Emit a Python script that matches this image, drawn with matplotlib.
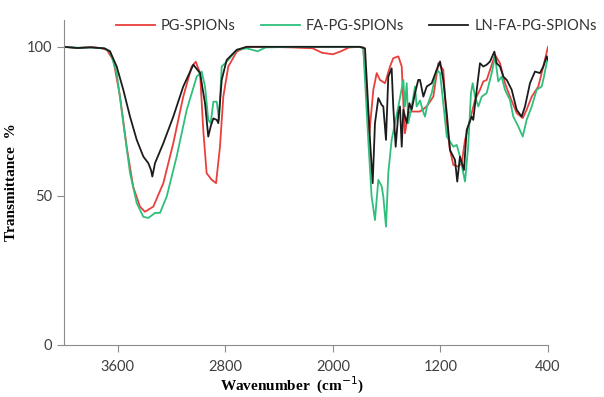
import matplotlib.pyplot as plt

# PG-SPIONs
pg_wn = [4000, 3900, 3800, 3720, 3682, 3633, 3583, 3534, 3485, 3435, 3398, 3336, 3261,
         3187, 3113, 3050, 3020, 2988, 2964, 2939, 2901, 2869, 2840, 2815, 2778, 2715,
         2641, 2500, 2300, 2150, 2080, 2000, 1940, 1880, 1800, 1774, 1749, 1729, 1699,
         1674, 1650, 1612, 1575, 1551, 1513, 1488, 1476, 1464, 1439, 1414, 1352, 1302,
         1253, 1216, 1179, 1153, 1129, 1104, 1067, 1042, 1017, 980, 943, 906, 881, 856,
         831, 794, 757, 720, 683, 633, 588, 559, 521, 472, 435, 400]
pg_t = [100, 99.6, 100, 99.5, 99, 95.6, 83.3, 66.5, 53, 46.4, 44.7, 46.4, 54.3,
        67.7, 83.3, 93.4, 95, 91.2, 72, 57.6, 55.4, 54.3, 66.5, 83.3, 93.4, 98.4,
        100, 100, 99.8, 99.5, 98, 97.5, 98.5, 99.8, 100, 99.8, 85, 71, 85.6,
        91.2, 88.9, 87.8, 93.4, 96.2, 96.8, 93.4, 81.1, 71, 77.8, 78.3, 78.3, 80,
        83.3, 94.5, 92.3, 74.4, 65.4, 60.4, 59.8, 61, 68.8, 75.5, 82.2, 85.6, 88.4, 88.9,
        92.3, 97.3, 94.5, 87.8, 83.3, 77.8, 76.1, 78.9, 83.3, 86.7, 93.4, 100]

# FA-PG-SPIONs
fa_wn = [4000, 3900, 3800, 3700, 3658, 3608, 3559, 3509, 3459, 3410, 3373, 3323, 3286,
         3236, 3162, 3087, 3013, 2976, 2951, 2927, 2909, 2889, 2864, 2847, 2827, 2790,
         2715, 2641, 2560, 2500, 2300, 2000, 1800, 1774, 1737, 1712, 1687, 1662, 1637,
         1625, 1605, 1588, 1563, 1538, 1513, 1476, 1464, 1451, 1439, 1414, 1389, 1377,
         1352, 1327, 1315, 1300, 1265, 1228, 1203, 1179, 1153, 1104, 1079, 1055, 1017,
         993, 973, 960, 943, 918, 893, 856, 819, 794, 770, 745, 720, 683, 658, 621, 588,
         559, 521, 484, 447, 430, 400]
fa_t = [100, 99.7, 99.8, 99.5, 98.5, 91.2, 74.5, 57.7, 47.6, 43, 42.6, 44.3, 44.3,
        49.8, 63.2, 78.9, 90, 91.7, 86.7, 75.5, 74.4, 81.6, 81.6, 75.5, 93.4, 95,
        99, 99.5, 98.5, 99.8, 100, 100, 100, 99.5, 68.8, 49.8, 41.9, 55.4, 53.2,
        49.8, 39.7, 57.6, 68.8, 74.4, 80, 88.9, 80, 87.8, 74.4, 80, 86.7, 80,
        82, 78, 76.6, 80, 84.5, 92.3, 91.2, 81.1, 69.9, 66.5, 67.1, 63.2, 54.8,
        67.1, 84.5, 87.8, 83.3, 80, 83.3, 84.5, 91.2, 96.8, 88.4, 90, 85.6, 82.2, 76.6, 73.3, 69.9,
        75.5, 80, 85.6, 86.7, 90, 96.8]

# LN-FA-PG-SPIONs
ln_wn = [4000, 3900, 3800, 3700, 3658, 3608, 3559, 3509, 3459, 3410, 3373, 3353, 3343,
         3323, 3261, 3187, 3113, 3038, 2988, 2951, 2927, 2909, 2889, 2864, 2852, 2827,
         2790, 2715, 2641, 2300, 2000, 1800, 1761, 1724, 1704, 1687, 1662, 1637, 1625,
         1605, 1588, 1563, 1551, 1533, 1513, 1501, 1488, 1476, 1451, 1431, 1414, 1389,
         1365, 1352, 1327, 1302, 1265, 1228, 1203, 1179, 1153, 1129, 1092, 1075, 1055,
         1025, 1005, 968, 956, 930, 906, 881, 856, 831, 799, 782, 757, 732, 707, 670,
         633, 596, 571, 534, 497, 460, 435, 410, 400]
ln_t = [100, 99.6, 99.8, 99.5, 98.5, 93.4, 85.6, 76.6, 68.8, 63.2, 61, 58.7, 56.5,
        61, 67.7, 76.6, 86.7, 94, 91.2, 81, 69.9, 73.3, 76, 75.5, 74.4, 88.9,
        95.6, 99, 100, 100, 100, 100, 99.5, 68.8, 54.3, 74.4, 82.8, 80.5, 80,
        68.8, 90, 92.8, 80, 66.5, 77.8, 80, 66.5, 78.9, 74.4, 81.1, 78.9, 84.5,
        88.9, 88.9, 83.3, 86.7, 87.8, 92.3, 95.1, 88.9, 77.8, 65.4, 62.1, 54.8, 63.2,
        58.7, 72.1, 76.6, 75.5, 85.6, 94.5, 93.4, 94, 95.1, 98.4, 94.5, 93.4, 90, 88.9, 85.6,
        78.9, 76.6, 80, 87.8, 91.7, 91.2, 93.4, 96.8, 95.6]

series = [("PG-SPIONs", pg_wn, pg_t, "#e8403c"),
          ("FA-PG-SPIONs", fa_wn, fa_t, "#2fbf7c"),
          ("LN-FA-PG-SPIONs", ln_wn, ln_t, "#1c1c1c")]

fig = plt.figure(figsize=(6.04, 3.97), dpi=100)
ax = fig.add_axes([64 / 604, 52 / 397, 484 / 604, 325 / 397])

for name, wn, t, c in series:
    ax.plot(wn, t, color=c, lw=1.3, label=name)

ax.set_xlim(4000, 400)
ax.set_ylim(0, 109)
ax.set_xticks([3600, 2800, 2000, 1200, 400])
ax.set_yticks([0, 50, 100])

for side in ["top", "right"]:
    ax.spines[side].set_visible(False)
for side in ["left", "bottom"]:
    ax.spines[side].set_color("#8c8c8c")
ax.tick_params(colors="#8c8c8c", labelcolor="#404040", length=5, labelsize=10.5)
for lab in ax.get_xticklabels() + ax.get_yticklabels():
    lab.set_family("Lato")
ax.tick_params(axis="x", pad=6)

ax.set_ylabel("Transmittance  %", family="Liberation Serif", fontweight="bold",
              fontsize=11)
ax.yaxis.set_label_coords(-46 / 484, 0.5)
ax.set_xlabel("Wavenumber  (cm$^{-1}$)", family="Liberation Serif", fontweight="bold",
              fontsize=11)
ax.xaxis.set_label_coords((292 - 64) / 484, -30 / 325)

leg = fig.legend(loc="center right", bbox_to_anchor=(604 / 604, 1 - 26 / 397), ncol=3,
                 frameon=False, prop={"family": "Lato", "size": 10.5}, borderpad=0,
                 handlelength=2.7, columnspacing=1.7, handletextpad=0.4)
for txt in leg.get_texts():
    txt.set_color("#333333")

fig.savefig("out.png", dpi=100)
